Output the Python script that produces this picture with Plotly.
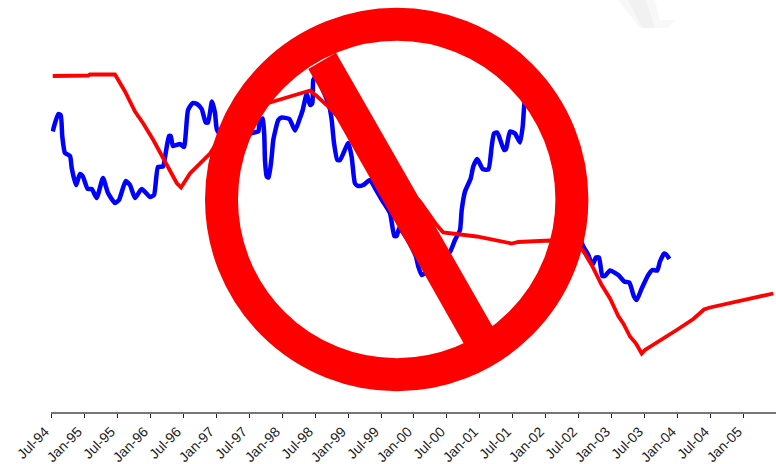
import plotly.graph_objects as go

W, H = 776, 464
ML, MB = 51, 52

tick_years = [1994.5 + 0.5 * i for i in range(22)]
tick_labels = ["Jul-94", "Jan-95", "Jul-95", "Jan-96", "Jul-96", "Jan-97", "Jul-97", "Jan-98",
               "Jul-98", "Jan-99", "Jul-99", "Jan-00", "Jul-00", "Jan-01", "Jul-01", "Jan-02",
               "Jul-02", "Jan-03", "Jul-03", "Jan-04", "Jul-04", "Jan-05"]

blue_x = [1994.526, 1994.561, 1994.611, 1994.647, 1994.671, 1994.712, 1994.788, 1994.814, 1994.879, 1994.939,
          1994.980, 1995.056, 1995.117, 1995.192, 1995.288, 1995.364, 1995.470, 1995.530, 1995.632, 1995.697,
          1995.773, 1995.874, 1996.000, 1996.061, 1996.121, 1996.197, 1996.238, 1996.288, 1996.314, 1996.348,
          1996.455, 1996.515, 1996.576, 1996.647, 1996.712, 1996.783, 1996.844, 1996.879, 1996.939, 1996.985,
          1997.015, 1997.136, 1997.288, 1997.439, 1997.576, 1997.641, 1997.667, 1997.708, 1997.732, 1997.742,
          1997.768, 1997.798, 1997.844, 1997.868, 1997.944, 1997.995, 1998.111, 1998.197, 1998.262, 1998.314,
          1998.374, 1998.424, 1998.459, 1998.474, 1998.515, 1998.606, 1998.717, 1998.753, 1998.788, 1998.838,
          1998.879, 1999.005, 1999.056, 1999.106, 1999.156, 1999.232, 1999.333, 1999.409, 1999.515, 1999.636,
          1999.702, 1999.738, 1999.777, 1999.909, 2000.030, 2000.065, 2000.117, 2000.242, 2000.394, 2000.545,
          2000.621, 2000.697, 2000.723, 2000.773, 2000.859, 2000.898, 2000.959, 2001.041, 2001.126, 2001.177,
          2001.212, 2001.262, 2001.364, 2001.394, 2001.455, 2001.530, 2001.606, 2001.647, 2001.671, 2001.712,
          2001.985, 2002.212, 2002.364, 2002.439, 2002.515, 2002.565, 2002.641, 2002.702, 2002.758, 2002.803,
          2002.853, 2002.894, 2002.970, 2003.095, 2003.186, 2003.262, 2003.333, 2003.374, 2003.450, 2003.550,
          2003.611, 2003.686, 2003.727, 2003.792, 2003.829, 2003.868]
blue_y = [5.61, 5.78, 5.96, 5.94, 5.51, 5.18, 5.12, 4.88, 4.54, 4.76,
          4.72, 4.46, 4.46, 4.28, 4.68, 4.38, 4.18, 4.24, 4.62, 4.54,
          4.28, 4.46, 4.30, 4.34, 4.90, 4.91, 5.18, 5.52, 5.52, 5.32,
          5.36, 5.30, 6.04, 6.18, 6.16, 6.06, 5.79, 5.79, 6.21, 5.98,
          5.64, 5.44, 5.74, 5.54, 5.59, 5.61, 5.84, 5.87, 5.51, 5.04,
          4.71, 4.69, 5.11, 5.44, 5.84, 5.89, 5.86, 5.63, 5.84, 6.04,
          6.36, 6.14, 6.17, 6.64, 6.72, 6.48, 6.11, 5.84, 5.38, 5.04,
          5.04, 5.38, 5.10, 4.57, 4.52, 4.54, 4.64, 4.48, 4.24, 3.98,
          3.52, 3.52, 3.68, 3.44, 3.11, 2.91, 2.74, 2.84, 3.00, 3.20,
          3.44, 3.64, 4.04, 4.41, 4.67, 4.91, 5.06, 4.86, 4.85, 5.31,
          5.57, 5.59, 5.24, 5.26, 5.61, 5.57, 5.39, 5.71, 6.14, 6.48,
          6.04, 5.24, 4.44, 3.84, 3.48, 3.31, 3.14, 2.94, 3.09, 3.09,
          2.72, 2.72, 2.83, 2.74, 2.61, 2.59, 2.31, 2.24, 2.47, 2.74,
          2.84, 2.83, 3.01, 3.17, 3.14, 3.06]

red_x = [1994.526, 1995.065, 1995.091, 1995.470, 1995.621, 1995.773, 1995.898, 1996.050, 1996.227, 1996.405,
         1996.470, 1996.606, 1996.909, 1997.011, 1997.212, 1997.515, 1997.818, 1998.121, 1998.424, 1998.526,
         1998.677, 1999.182, 1999.636, 2000.091, 2000.344, 2000.444, 2000.950, 2001.480, 2001.580, 2002.061,
         2002.288, 2002.439, 2002.556, 2002.692, 2002.844, 2002.970, 2003.095, 2003.171, 2003.273, 2003.364,
         2003.450, 2003.500, 2003.601, 2003.980, 2004.232, 2004.394, 2004.485, 2004.889, 2005.444]
red_y = [6.72, 6.73, 6.75, 6.75, 6.41, 6.01, 5.77, 5.44, 5.01, 4.58,
         4.49, 4.77, 5.17, 5.38, 5.74, 6.04, 6.19, 6.31, 6.43, 6.32,
         6.14, 5.44, 4.84, 4.21, 3.74, 3.59, 3.51, 3.37, 3.40, 3.43,
         3.42, 3.38, 3.24, 2.94, 2.54, 2.27, 1.92, 1.77, 1.51, 1.37,
         1.17, 1.24, 1.32, 1.64, 1.86, 2.05, 2.09, 2.21, 2.37]

plot_w, plot_h = W - ML, H - MB


def px(x):
    return (x - ML) / plot_w


def py(y):
    return (plot_h - y) / plot_h


def poly(points):
    return "M " + " L ".join(f"{px(a):.5f},{py(b):.5f}" for a, b in points) + " Z"


ring_cx, ring_cy, ring_r, ring_w = 396.7, 199.5, 175.2, 33
shapes = [
    dict(type="path", xref="paper", yref="paper", line_width=0, fillcolor="#f8f8f8",
         path=poly([(618, 0), (655, 0), (660, 20), (675, 20), (668, 28), (640, 28)])),
    dict(type="path", xref="paper", yref="paper", line_width=0, fillcolor="#f1f1f1",
         path=poly([(628, 0), (646, 0), (655, 28), (642, 28)])),
    dict(type="circle", xref="paper", yref="paper", fillcolor="rgba(0,0,0,0)",
         line=dict(color="#ff0000", width=ring_w),
         x0=px(ring_cx - ring_r), x1=px(ring_cx + ring_r),
         y0=py(ring_cy + ring_r), y1=py(ring_cy - ring_r)),
    dict(type="path", xref="paper", yref="paper", line_width=0, fillcolor="#ff0000",
         path=poly([(308.3, 69), (336, 52.7), (493.3, 327.7), (465, 345.7)])),
]

fig = go.Figure()
fig.add_trace(go.Scatter(x=blue_x, y=blue_y, mode="lines",
                         line=dict(color="#0000ff", width=4.5, shape="spline", smoothing=0.5), showlegend=False))
fig.add_trace(go.Scatter(x=red_x, y=red_y, mode="lines", line=dict(color="#ff0000", width=3.8), showlegend=False))

fig.update_layout(
    width=W, height=H, autosize=False,
    margin=dict(l=ML, r=0, t=0, b=MB, pad=0),
    paper_bgcolor="white", plot_bgcolor="white",
    showlegend=False, shapes=shapes,
    xaxis=dict(range=[1994.5, 2005.485], tickmode="array", tickvals=tick_years, ticktext=tick_labels,
               tickangle=-45, ticks="outside", ticklen=4, tickwidth=1, tickcolor="#222222",
               ticklabelshift=-6, ticklabelstandoff=0, automargin=False,
               showgrid=False, zeroline=False, showline=True, linecolor="#777777", linewidth=2,
               tickfont=dict(family="Liberation Sans", size=14, color="#222222")),
    yaxis=dict(range=[0, 8.24], visible=False, showgrid=False, zeroline=False, automargin=False),
)
fig.write_html("out.html", config={"displayModeBar": False},
               post_script="document.body.style.margin='0';document.body.style.overflow='hidden';")
